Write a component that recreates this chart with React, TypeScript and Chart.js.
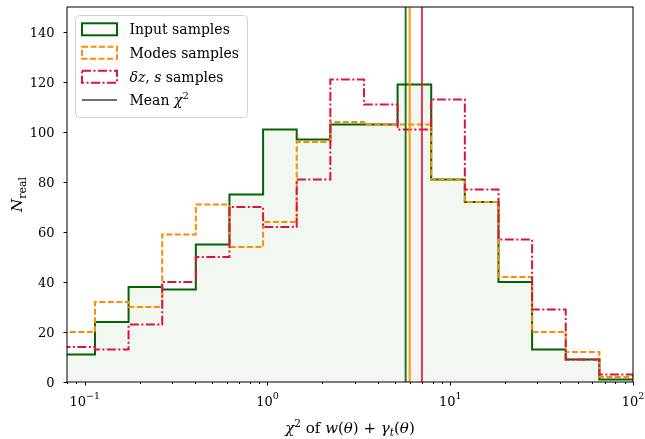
import React, { useEffect, useRef } from "react";
import { Chart, registerables } from "chart.js";

Chart.register(...registerables);

// ---------- data ----------
const binEdges = [
  0.0745, 0.1138, 0.1738, 0.2655, 0.4055, 0.6194, 0.9462, 1.4454, 2.208, 3.373,
  5.152, 7.87, 12.02, 18.37, 28.05, 42.85, 65.46, 100,
];
const inputCounts = [11, 24, 38, 37, 55, 75, 101, 97, 103, 103, 119, 81, 72, 40, 13, 9, 1];
const modesCounts = [20, 32, 30, 59, 71, 54, 64, 96, 104, 103, 103, 81, 72, 42, 20, 12, 2];
const dzsCounts = [14, 13, 23, 40, 50, 70, 62, 81, 121, 111, 101, 113, 77, 57, 29, 9, 3];
const meanInput = 5.7;
const meanModes = 6.0;
const meanDzs = 7.0;
const yTicks = [0, 20, 40, 60, 80, 100, 120, 140];
const xMajorExp = [-1, 0, 1, 2];
const xMin = 0.08;
const xMax = 100;
const yMin = 0;
const yMax = 150;

const GREEN = "#006400";
const ORANGE = "#ff8c00";
const CRIMSON = "#dc143c";
const FILL = "rgb(242,247,242)";
const FONT = '"DejaVu Serif", serif';

type Seg = { t: string; it?: boolean; sz?: number; dy?: number };

function segFont(s: Seg, base: number) {
  return `${s.it ? "italic " : ""}${s.sz ?? base}px ${FONT}`;
}
function measureRich(ctx: CanvasRenderingContext2D, segs: Seg[], base: number) {
  let w = 0;
  for (const s of segs) {
    ctx.font = segFont(s, base);
    w += ctx.measureText(s.t).width;
  }
  return w;
}
function drawRich(
  ctx: CanvasRenderingContext2D,
  segs: Seg[],
  x: number,
  y: number,
  base: number,
  align: "left" | "center" | "right"
) {
  const w = measureRich(ctx, segs, base);
  let cx = align === "left" ? x : align === "center" ? x - w / 2 : x - w;
  ctx.textAlign = "left";
  ctx.textBaseline = "alphabetic";
  for (const s of segs) {
    ctx.font = segFont(s, base);
    ctx.fillText(s.t, cx, y + (s.dy ?? 0));
    cx += ctx.measureText(s.t).width;
  }
}

function stepData(counts: number[]) {
  const pts: { x: number; y: number }[] = [{ x: binEdges[0], y: 0 }];
  counts.forEach((c, i) => pts.push({ x: binEdges[i], y: c }));
  const last = binEdges.length - 1;
  pts.push({ x: binEdges[last], y: counts[counts.length - 1] });
  pts.push({ x: binEdges[last], y: 0 });
  return pts;
}
function vline(v: number) {
  return [
    { x: v, y: yMin },
    { x: v, y: yMax },
  ];
}

const decorPlugin = {
  id: "decor",
  afterDraw(chart: any) {
    const ctx: CanvasRenderingContext2D = chart.ctx;
    const { left, right, top, bottom } = chart.chartArea;
    const xs = chart.scales.x;
    const ys = chart.scales.y;
    ctx.save();
    // spines
    ctx.strokeStyle = "#000";
    ctx.lineWidth = 1;
    ctx.strokeRect(left, top, right - left, bottom - top);

    // y ticks
    ctx.fillStyle = "#000";
    for (const t of yTicks) {
      const py = Math.round(ys.getPixelForValue(t)) + 0.5;
      ctx.beginPath();
      ctx.moveTo(left - 3.5, py);
      ctx.lineTo(left, py);
      ctx.stroke();
      drawRich(ctx, [{ t: String(t) }], left - 12.5, py + 4.7, 13, "right");
    }
    // x ticks
    for (let e = -2; e <= 2; e++) {
      for (let m = 1; m <= 9; m++) {
        const v = m * Math.pow(10, e);
        if (v < xMin - 1e-9 || v > xMax + 1e-9) continue;
        const px = Math.round(xs.getPixelForValue(v)) + 0.5;
        const len = m === 1 ? 3.5 : 2;
        ctx.beginPath();
        ctx.moveTo(px, bottom);
        ctx.lineTo(px, bottom + len);
        ctx.stroke();
      }
    }
    for (const e of xMajorExp) {
      const px = xs.getPixelForValue(Math.pow(10, e));
      const sup = e < 0 ? "\u2212" + String(-e) : String(e);
      drawRich(
        ctx,
        [{ t: "10" }, { t: sup, sz: 9.5, dy: -6.5 }],
        px,
        bottom + 23.5,
        13,
        "center"
      );
    }
    // axis labels
    drawRich(
      ctx,
      [
        { t: "χ", it: true },
        { t: "2", sz: 10.5, dy: -6.5 },
        { t: " of " },
        { t: "w", it: true },
        { t: "(" },
        { t: "θ", it: true },
        { t: ")" },
        { t: " + " },
        { t: "γ", it: true },
        { t: "t", it: true, sz: 10.5, dy: 3 },
        { t: "(" },
        { t: "θ", it: true },
        { t: ")" },
      ],
      (left + right) / 2,
      bottom + 51,
      15,
      "center"
    );
    ctx.save();
    ctx.translate(22, (top + bottom) / 2);
    ctx.rotate(-Math.PI / 2);
    drawRich(
      ctx,
      [
        { t: "N", it: true },
        { t: "real", sz: 11, dy: 3.5 },
      ],
      0,
      0,
      15,
      "center"
    );
    ctx.restore();

    // legend
    const lx = 75.5,
      ly = 15.5,
      lw = 172,
      lh = 102;
    ctx.beginPath();
    (ctx as any).roundRect(lx, ly, lw, lh, 4);
    ctx.fillStyle = "rgba(255,255,255,0.8)";
    ctx.fill();
    ctx.strokeStyle = "#d0d0d0";
    ctx.lineWidth = 1;
    ctx.stroke();

    const rows = [29.3, 52.7, 76.7, 100];
    const hx = 82,
      hw = 35,
      hh = 12;
    const handles = [
      { c: GREEN, d: [] as number[] },
      { c: ORANGE, d: [6, 2.5] },
      { c: CRIMSON, d: [9, 2.5, 2, 2.5] },
    ];
    handles.forEach((h, i) => {
      ctx.setLineDash(h.d);
      ctx.strokeStyle = h.c;
      ctx.lineWidth = 2;
      ctx.strokeRect(hx, rows[i] - hh / 2, hw, hh);
    });
    ctx.setLineDash([]);
    ctx.strokeStyle = "#6e6e6e";
    ctx.lineWidth = 2;
    ctx.beginPath();
    ctx.moveTo(hx, rows[3]);
    ctx.lineTo(hx + hw, rows[3]);
    ctx.stroke();

    ctx.fillStyle = "#000";
    const tx = 129.5;
    const labels: Seg[][] = [
      [{ t: "Input samples" }],
      [{ t: "Modes samples" }],
      [{ t: "δz", it: true }, { t: ", " }, { t: "s", it: true }, { t: " samples" }],
      [{ t: "Mean " }, { t: "χ", it: true }, { t: "2", sz: 10, dy: -6 }],
    ];
    labels.forEach((segs, i) => drawRich(ctx, segs, tx, rows[i] + 5, 14, "left"));
    ctx.restore();
  },
};

export default function App() {
  const ref = useRef<HTMLCanvasElement | null>(null);
  useEffect(() => {
    if (!ref.current) return;
    const common = { stepped: "before" as const, pointRadius: 0, tension: 0, borderWidth: 2 };
    const chart = new Chart(ref.current, {
      type: "line",
      data: {
        datasets: [
          {
            label: "Input samples",
            data: stepData(inputCounts),
            borderColor: GREEN,
            backgroundColor: FILL,
            fill: "origin",
            order: 10,
            ...common,
          },
          {
            label: "Modes samples",
            data: stepData(modesCounts),
            borderColor: ORANGE,
            borderDash: [6, 2.5],
            fill: false,
            order: 9,
            ...common,
          },
          {
            label: "δz, s samples",
            data: stepData(dzsCounts),
            borderColor: CRIMSON,
            borderDash: [9, 2.5, 2, 2.5],
            fill: false,
            order: 8,
            ...common,
          },
          {
            label: "mean input",
            data: vline(meanInput),
            borderColor: "rgba(0,100,0,0.85)",
            borderWidth: 2,
            pointRadius: 0,
            fill: false,
            order: 3,
          },
          {
            label: "mean modes",
            data: vline(meanModes),
            borderColor: "rgba(255,140,0,0.85)",
            borderWidth: 2.2,
            pointRadius: 0,
            fill: false,
            order: 2,
          },
          {
            label: "mean dzs",
            data: vline(meanDzs),
            borderColor: "rgba(220,20,60,0.85)",
            borderWidth: 2,
            pointRadius: 0,
            fill: false,
            order: 1,
          },
        ],
      },
      options: {
        responsive: false,
        animation: false,
        layout: { padding: { left: 67, top: 7, right: 12, bottom: 57 } },
        scales: {
          x: { type: "logarithmic", min: xMin, max: xMax, display: false },
          y: { type: "linear", min: yMin, max: yMax, display: false },
        },
        plugins: {
          legend: { display: false },
          tooltip: { enabled: false },
        },
      },
      plugins: [decorPlugin],
    });
    return () => chart.destroy();
  }, []);
  return (
    <div style={{ position: "absolute", left: 0, top: 0, width: 645, height: 439, background: "#fff" }}>
      <canvas ref={ref} width={645} height={439} style={{ display: "block" }} />
    </div>
  );
}
